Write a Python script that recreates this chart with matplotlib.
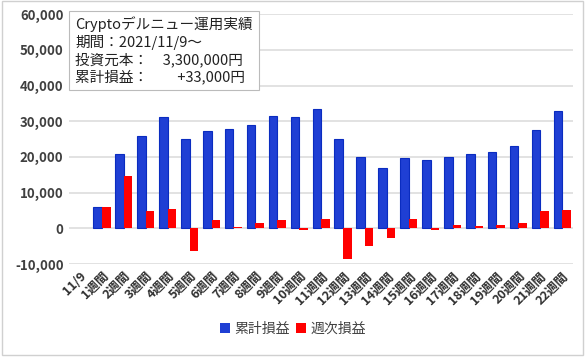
import numpy as np
import matplotlib.pyplot as plt

plt.rcParams['font.family'] = ['Noto Sans CJK JP', 'DejaVu Sans']

# data
labels = ['11/9'] + [f'{i}週間' for i in range(1, 23)]
cumulative = [0, 6100, 20800, 25850, 31100, 25000, 27250, 27700, 29000, 31350,
              31100, 33500, 24900, 19900, 17000, 19600, 19200, 20050, 20700,
              21300, 22950, 27600, 32750]
weekly = [0, 6100, 14700, 4950, 5400, -6250, 2300, 300, 1500, 2300,
          -400, 2500, -8600, -5050, -2800, 2500, -400, 900, 750, 900,
          1500, 4750, 5100]
yticks = [-10000, 0, 10000, 20000, 30000, 40000, 50000, 60000]

info_text = ('Cryptoデルニュー運用実績\n'
             '期間：2021/11/9～\n'
             '投資元本：　3,300,000円\n'
             '累計損益：　　+33,000円')

fig = plt.figure(figsize=(5.86, 3.57), dpi=100)
ax = fig.add_axes([0.118, 0.2605, 0.86, 0.700])

x = np.arange(len(labels))
w = 0.39
edge_w = [0.8 if v != 0 else 0 for v in cumulative]
ax.bar(x - w / 2, cumulative, w, color='#1f3fd4', edgecolor='#0a2cc0',
       linewidth=edge_w, label='累計損益', zorder=3)
ax.bar(x + w / 2, weekly, w, color='#ff0000', label='週次損益', zorder=3)

ax.set_xlim(-0.5, len(labels) - 0.5)
ax.set_ylim(-10000, 60000)
ax.set_yticks(yticks)
ax.set_yticklabels([f'{v:,}' for v in yticks], fontsize=9.5,
                   color='#404040', fontweight='bold')
ax.set_xticks(x)
ax.set_xticklabels(labels, rotation=45, ha='right', rotation_mode='anchor',
                   fontsize=9, color='#303030', fontweight='bold')
ax.tick_params(length=0, pad=4)
ax.grid(axis='y', color='#dddddd', linewidth=1.2, zorder=0)
for s in ax.spines.values():
    s.set_visible(False)

ax.text(0.012, 0.99, info_text, transform=ax.transAxes, va='top', ha='left',
        fontsize=10.5, color='#222222', linespacing=1.2, zorder=5,
        bbox=dict(boxstyle='square,pad=0.4', facecolor='white',
                  edgecolor='#bbbbbb', linewidth=0.8))

fig.legend(loc='lower center', bbox_to_anchor=(0.5, 0.025), ncol=2,
           frameon=False, fontsize=10, handlelength=0.7, handleheight=0.7,
           handletextpad=0.3, columnspacing=0.5, labelcolor='#404040')

border = plt.Rectangle((0.003, 0.006), 0.992, 0.99, transform=fig.transFigure,
                       fill=False, edgecolor='#d0d0d0', linewidth=1)
fig.patches.append(border)

fig.savefig('out.png', dpi=100)
